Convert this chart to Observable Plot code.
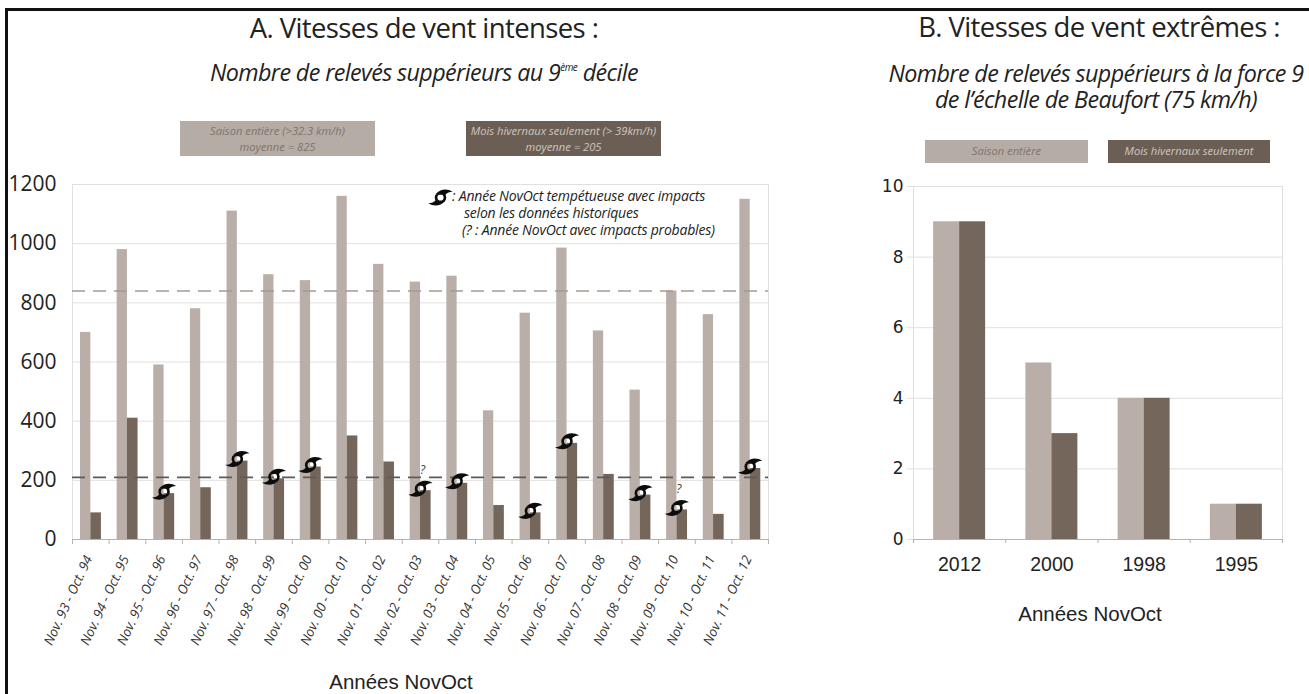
<!DOCTYPE html>
<html lang="fr">
<head>
<meta charset="utf-8">
<script src="https://cdn.jsdelivr.net/npm/d3@7"></script>
<script src="https://cdn.jsdelivr.net/npm/@observablehq/plot@0.6"></script>
<style>
html,body{margin:0;padding:0;background:#fff;width:1309px;height:694px;overflow:hidden}
#page{position:relative;width:1309px;height:694px;overflow:hidden;color:#222}
#page svg{position:absolute;background:transparent}
.t{position:absolute;white-space:nowrap;text-align:center;font-family:"Open Sans",sans-serif;line-height:1}
.title{font-size:27.5px;letter-spacing:-.6px}
.sub{font-size:23.3px;font-style:italic;letter-spacing:-.6px}
.box{position:absolute;text-align:center;font-family:"Open Sans",sans-serif;font-style:italic;font-size:11.2px;line-height:16px;box-sizing:border-box;white-space:nowrap}
.note{font-size:14px;font-style:italic;text-align:left;letter-spacing:-.2px}
.axt{font-family:"Liberation Sans",Arial,sans-serif;font-size:20.5px}
#border{position:absolute;left:5px;top:8px;right:-6px;bottom:-6px;border:3px solid #111;box-sizing:border-box}
</style>
</head>
<body>
<div id="page"><div id="border"></div></div>
<script>
const seasons = ["Nov. 93 - Oct. 94","Nov. 94 - Oct. 95","Nov. 95 - Oct. 96","Nov. 96 - Oct. 97","Nov. 97 - Oct. 98","Nov. 98 - Oct. 99","Nov. 99 - Oct. 00","Nov. 00 - Oct. 01","Nov. 01 - Oct. 02","Nov. 02 - Oct. 03","Nov. 03 - Oct. 04","Nov. 04 - Oct. 05","Nov. 05 - Oct. 06","Nov. 06 - Oct. 07","Nov. 07 - Oct. 08","Nov. 08 - Oct. 09","Nov. 09 - Oct. 10","Nov. 10 - Oct. 11","Nov. 11 - Oct. 12"];
const fullSeason = [700,980,590,780,1110,895,875,1160,930,870,890,435,765,985,705,505,840,760,1150];
const winterOnly = [90,410,155,175,265,205,245,350,262,165,190,115,90,325,220,150,100,85,240];
const stormy = ["Nov. 95 - Oct. 96","Nov. 97 - Oct. 98","Nov. 98 - Oct. 99","Nov. 99 - Oct. 00","Nov. 02 - Oct. 03","Nov. 03 - Oct. 04","Nov. 05 - Oct. 06","Nov. 06 - Oct. 07","Nov. 08 - Oct. 09","Nov. 09 - Oct. 10","Nov. 11 - Oct. 12"];
const probable = ["Nov. 02 - Oct. 03","Nov. 09 - Oct. 10"];
const meanLines = [840,210];
const extremeYears = ["2012","2000","1998","1995"];
const extremeFull = [9,5,4,1];
const extremeWinter = [9,3,4,1];

const lightC = "#b9aea8", darkC = "#75665c", gridC = "#e2e0de", axisC = "#b5b2b0";

// custom cyclone glyph, scaled by the mark's r
const cyclone = {draw(c, size){
  const R = Math.sqrt(size/Math.PI);
  const P = (x,y)=>[x*R,y*R];
  c.moveTo(...P(1.05,-.5));
  c.bezierCurveTo(...P(.6,-.78),...P(.05,-.8),...P(-.42,-.3));
  c.lineTo(...P(.42,-.22));
  c.bezierCurveTo(...P(.55,-.42),...P(.8,-.5),...P(1.05,-.5));
  c.closePath();
  c.moveTo(...P(-1.05,.5));
  c.bezierCurveTo(...P(-.6,.78),...P(-.05,.8),...P(.42,.3));
  c.lineTo(...P(-.42,.22));
  c.bezierCurveTo(...P(-.55,.42),...P(-.8,.5),...P(-1.05,.5));
  c.closePath();
  c.moveTo(.5*R,0); c.arc(0,0,.5*R,0,2*Math.PI,true); c.closePath();
  c.moveTo(.27*R,0); c.arc(0,0,.27*R,0,2*Math.PI,false); c.closePath();
}};

const page = document.getElementById("page");
function place(el,l,t){el.style.left=l+"px";el.style.top=t+"px";page.appendChild(el);}
function text(str,cls,cx,cy,html){const d=document.createElement("div");d.className="t "+cls;if(html)d.innerHTML=str;else d.textContent=str;d.style.left=cx+"px";d.style.top=cy+"px";d.style.transform="translate(-50%,-50%)";page.appendChild(d);return d;}
function box(str,l,t,w,h,bg,fg,pad){const d=document.createElement("div");d.className="box";d.innerHTML=str;d.style.cssText+=`width:${w}px;height:${h}px;background:${bg};color:${fg};padding-top:${pad}px`;place(d,l,t);}

// Panel A
const rowsA = seasons.map((s,i)=>({s,full:fullSeason[i],winter:winterOnly[i]}));
const stormRows = rowsA.filter(d=>stormy.includes(d.s));
const probRows = rowsA.filter(d=>probable.includes(d.s));
const bw = 696/19;
const plotA = Plot.plot({
  width:800,height:694,marginLeft:72,marginRight:32,marginTop:184,marginBottom:155,
  style:{background:"transparent",overflow:"visible"},
  x:{domain:seasons,padding:0,round:false,label:null},
  y:{domain:[0,1200],label:null},
  marks:[
    Plot.frame({stroke:gridC}),
    Plot.gridY([200,400,600,800,1000,1200],{stroke:gridC,strokeOpacity:1}),
    Plot.barY(rowsA,{x:"s",y:"full",fill:lightC,insetLeft:bw/2-10.3,insetRight:bw/2}),
    Plot.barY(rowsA,{x:"s",y:"winter",fill:darkC,insetLeft:bw/2,insetRight:bw/2-10.6}),
    Plot.ruleY([0],{stroke:axisC}),
    Plot.ruleY(meanLines.slice(0,1),{stroke:"#a49a94",strokeWidth:1.6,strokeDasharray:"13,8"}),
    Plot.ruleY(meanLines.slice(1),{stroke:"#5f5a56",strokeWidth:1.6,strokeDasharray:"13,8"}),
    Plot.ruleX(seasons,{x:d=>d,y1:0,y2:0,dx:-bw/2,insetBottom:-5,stroke:axisC}),
    Plot.ruleX(seasons.slice(-1),{x:d=>d,y1:0,y2:0,dx:bw/2,insetBottom:-5,stroke:axisC}),
    Plot.axisY({ticks:[0,200,400,600,800,1000,1200],tickFormat:d=>String(d),tickSize:0,tickPadding:16,fontSize:21,fontFamily:"Open Sans",fill:"#222",label:null}),
    Plot.axisX({tickSize:0,tickRotate:-65,tickPadding:17,dx:-2,fontSize:13.3,fontStyle:"italic",fontFamily:"Open Sans",fill:"#333",label:null}),
    Plot.dot(stormRows,{x:"s",y:"winter",dy:-2,r:11.5,symbol:cyclone,fill:"#0c0c0c",stroke:"none"}),
    Plot.dot([0],{frameAnchor:"top-left",dx:368,dy:13,r:11.5,symbol:cyclone,fill:"#0c0c0c",stroke:"none"}),
    Plot.text(probRows,{x:"s",y:"winter",dy:-21,dx:2,text:()=>"?",fontSize:12,fontStyle:"italic",fontFamily:"Open Sans",fill:"#444"})
  ]
});
plotA.style.left="0px";plotA.style.top="0px";
page.appendChild(plotA);

// Panel B
const rowsB = extremeYears.map((y,i)=>({y,full:extremeFull[i],winter:extremeWinter[i]}));
const bwB = 369/4;
const plotB = Plot.plot({
  width:449,height:694,marginLeft:53,marginRight:27,marginTop:186,marginBottom:155,
  style:{background:"transparent",overflow:"visible"},
  x:{domain:extremeYears,padding:0,round:false,label:null},
  y:{domain:[0,10],label:null},
  marks:[
    Plot.frame({stroke:gridC}),
    Plot.gridY([2,4,6,8,10],{stroke:gridC,strokeOpacity:1}),
    Plot.barY(rowsB,{x:"y",y:"full",fill:lightC,insetLeft:bwB/2-26,insetRight:bwB/2}),
    Plot.barY(rowsB,{x:"y",y:"winter",fill:darkC,insetLeft:bwB/2,insetRight:bwB/2-26}),
    Plot.ruleY([0],{stroke:axisC}),
    Plot.ruleX(extremeYears,{x:d=>d,y1:0,y2:0,dx:-bwB/2,insetBottom:-4,stroke:axisC}),
    Plot.ruleX(extremeYears.slice(-1),{x:d=>d,y1:0,y2:0,dx:bwB/2,insetBottom:-4,stroke:axisC}),
    Plot.axisY({ticks:[0,2,4,6,8,10],tickSize:6,tickPadding:4,stroke:gridC,fontSize:17,fontFamily:"DejaVu Sans",fill:"#222",label:null}),
    Plot.axisX({tickSize:0,tickPadding:18,fontSize:19.5,fontFamily:"Liberation Sans",fill:"#222",label:null})
  ]
});
plotB.style.left="860px";plotB.style.top="0px";
page.appendChild(plotB);

// Text and legend boxes
text("A. Vitesses de vent intenses :","title",424,28);
text("Nombre de relevés suppérieurs au 9<sup style='font-size:10px;vertical-align:10px;line-height:0'>ème</sup> décile","sub",424,73,true);
box("Saison entière (&gt;32.3 km/h)<br>moyenne = 825",180,121,195,35,"#b5aca6","#7e746e",2);
box("Mois hivernaux seulement (&gt; 39km/h)<br>moyenne = 205",466,121,195,35,"#6b5e55","#cfc7c0",2);
box("Saison entière",925,140,163,23,"#b5aca6","#7e746e",3);
box("Mois hivernaux seulement",1108,140,162,23,"#6b5e55","#cfc7c0",3);
text("B. Vitesses de vent extrêmes :","title",1099,27);
text("Nombre de relevés suppérieurs à la force 9<br>de l’échelle de Beaufort (75 km/h)","sub",1096,86,true).style.lineHeight="26px";
for (const [s,y,x] of [[": Année NovOct tempétueuse avec impacts",197,452],["selon les données historiques",214,464],["(? : Année NovOct avec impacts probables)",231,462]]) {
  const d=document.createElement("div");d.className="t note";d.textContent=s;d.style.top=(y-8)+"px";
  d.style.left=x+"px";page.appendChild(d);
}
text("Années NovOct","axt",401,682);
text("Années NovOct","axt",1090,614);
</script>
</body>
</html>
